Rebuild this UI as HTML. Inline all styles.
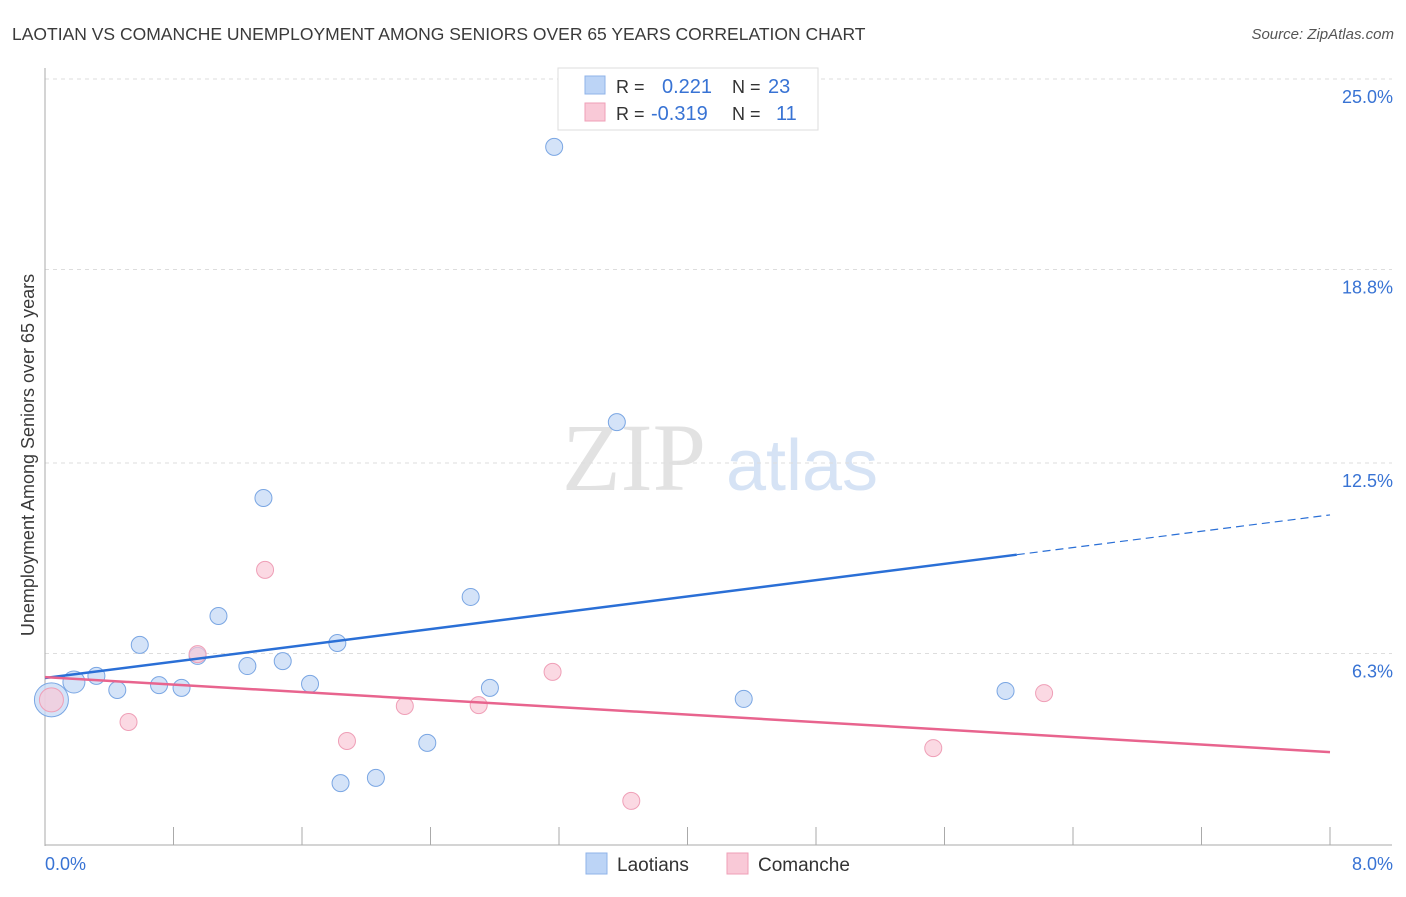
<!DOCTYPE html>
<html><head><meta charset="utf-8"><style>
body{margin:0;background:#fff;font-family:"Liberation Sans",sans-serif}
</style></head><body>
<svg id="c" width="1406" height="892" xmlns="http://www.w3.org/2000/svg">
<text x="12" y="40" font-size="17.5" fill="#3a3a3a">LAOTIAN VS COMANCHE UNEMPLOYMENT AMONG SENIORS OVER 65 YEARS CORRELATION CHART</text>
<text x="1394" y="39" font-size="15" fill="#555" font-style="italic" text-anchor="end">Source: ZipAtlas.com</text>
<text x="634" y="490" font-size="96" fill="#e2e2e2" font-family="Liberation Serif,serif" text-anchor="middle">ZIP</text>
<text x="802" y="490" font-size="72" fill="#d6e3f5" text-anchor="middle">atlas</text>
<text transform="translate(34,455) rotate(-90)" font-size="18" fill="#3a3a3a" text-anchor="middle">Unemployment Among Seniors over 65 years</text>
<g id="grid"></g><g id="marks"></g>
<g>
<rect x="558" y="68" width="260" height="62" fill="#fff" stroke="#ddd"/>
<rect x="585" y="76" width="20" height="18" fill="#bcd4f6" stroke="#8fb3e8"/>
<rect x="585" y="103" width="20" height="18" fill="#f9c9d7" stroke="#ef9fb7"/>
<text x="616" y="93" font-size="18" fill="#333">R = </text><text x="662" y="93" font-size="20" fill="#3873d4">0.221</text>
<text x="732" y="93" font-size="18" fill="#333">N = </text><text x="768" y="93" font-size="20" fill="#3873d4">23</text>
<text x="616" y="120" font-size="18" fill="#333">R = </text><text x="651" y="120" font-size="20" fill="#3873d4">-0.319</text>
<text x="732" y="120" font-size="18" fill="#333">N = </text><text x="776" y="120" font-size="20" fill="#3873d4">11</text>
</g>
<g>
<rect x="586" y="853" width="21" height="21" fill="#bcd4f6" stroke="#8fb3e8"/>
<text x="617" y="871" font-size="19" fill="#333">Laotians</text>
<rect x="727" y="853" width="21" height="21" fill="#f9c9d7" stroke="#ef9fb7"/>
<text x="758" y="871" font-size="19" fill="#333">Comanche</text>
</g>
</svg>
<script>
const yTicks=[25,18.8,12.5,6.3];
const yTickLabels=["25.0%","18.8%","12.5%","6.3%"];
const xTickLabels=["0.0%","8.0%"];
const laoX=[0.04,0.18,0.32,0.45,0.59,0.71,0.85,0.95,1.08,1.26,1.36,1.48,1.65,1.82,1.84,2.06,2.38,2.65,2.77,3.17,3.56,4.35,5.98];
const laoY=[4.79,5.37,5.57,5.11,6.58,5.27,5.18,6.22,7.52,5.89,11.36,6.05,5.31,6.64,2.08,2.25,3.39,8.14,5.18,22.79,13.83,4.82,5.08];
const comX=[0.04,0.52,0.95,1.37,1.88,2.24,2.70,3.16,3.65,5.53,6.22];
const comY=[4.79,4.07,6.28,9.02,3.45,4.59,4.62,5.70,1.50,3.22,5.01];
const laoTrend=[5.50,10.81];
const comTrend=[5.53,3.09];
const NS="http://www.w3.org/2000/svg";
const X=v=>45+v/8*1285, Y=v=>847-v*30.72;
function mk(t,a,p){const e=document.createElementNS(NS,t);for(const k in a)e.setAttribute(k,a[k]);p.appendChild(e);return e;}
const g=document.getElementById('grid'),m=document.getElementById('marks');
yTicks.forEach((t,i)=>{
 const l=mk('line',{x1:45,x2:1392,y1:Y(t),y2:Y(t),stroke:'#ddd','stroke-dasharray':'4,4'},g);
 
 
 const tx=mk('text',{x:1393,y:Y(t)+24,'font-size':18,fill:'#3873d4','text-anchor':'end'},g);tx.textContent=yTickLabels[i];
 
 
});
mk('line',{x1:45,x2:45,y1:68,y2:846,stroke:'#aaa'},g);
mk('line',{x1:45,x2:1392,y1:845,y2:845,stroke:'#aaa'},g);
for(let i=1;i<=10;i++){const x=X(i*0.8);mk('line',{x1:x,x2:x,y1:827,y2:845,stroke:'#aaa'},g);}
[[0,'start',45],[1,'end',1393]].forEach(([i,a,x])=>{const t=mk('text',{x:x,y:870,'font-size':18,fill:'#3873d4','text-anchor':a},g);t.textContent=xTickLabels[i];
 
 });
laoX.forEach((x,i)=>{const r=i==0?17:(i==1?11:8.5);const c=mk('circle',{cx:X(x),cy:Y(laoY[i]),r:r,fill:'#c5daf6','fill-opacity':0.75,stroke:'#7aa6e3'},m);
 
 });
comX.forEach((x,i)=>{const c=mk('circle',{cx:X(x),cy:Y(comY[i]),r:i==0?12:8.5,fill:'#f9c9d7','fill-opacity':0.7,stroke:'#ef9fb7'},m);
 
 });
const xs=6.05, ys=laoTrend[0]+(laoTrend[1]-laoTrend[0])*xs/8;
let l=mk('line',{x1:X(0),y1:Y(laoTrend[0]),x2:X(xs),y2:Y(ys),stroke:'#2a6fd6','stroke-width':2.5},m);


l=mk('line',{x1:X(xs),y1:Y(ys),x2:X(8),y2:Y(laoTrend[1]),stroke:'#2a6fd6','stroke-width':1.2,'stroke-dasharray':'8,5'},m);


l=mk('line',{x1:X(0),y1:Y(comTrend[0]),x2:X(8),y2:Y(comTrend[1]),stroke:'#e8648e','stroke-width':2.5},m);


</script>
</body></html>
